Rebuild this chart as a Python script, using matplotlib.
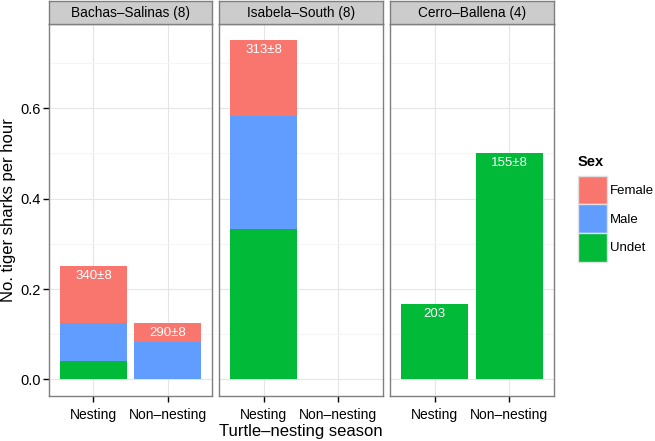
import matplotlib
matplotlib.use("Agg")
import matplotlib.pyplot as plt
from matplotlib.patches import Patch

plt.rcParams['font.family'] = ['Liberation Sans', 'DejaVu Sans']

sites = ['Bachas\u2013Salinas (8)', 'Isabela\u2013South (8)', 'Cerro\u2013Ballena (4)']
seasons = ['Nesting', 'Non\u2013nesting']
colors = {'Female': '#F8766D', 'Male': '#619CFF', 'Undet': '#00BA38'}

# rates per site, per season (Nesting, Non-nesting)
undet = [[0.0417, 0.0], [0.3333, 0.0], [0.1667, 0.5]]
male = [[0.0833, 0.0833], [0.25, 0.0], [0.0, 0.0]]
female = [[0.125, 0.0417], [0.1667, 0.0], [0.0, 0.0]]
bar_labels = [['340\u00b18', '290\u00b18'], ['313\u00b18', ''], ['203', '155\u00b18']]

W, H = 655, 441
fig = plt.figure(figsize=(W / 100, H / 100), dpi=100)

panel_x = [(49, 212), (219, 383), (390, 554)]
strip_top, strip_bot, panel_bot = 1, 24, 396

ymin, ymax = -0.0365, 0.786

for i, (x0, x1) in enumerate(panel_x):
    ax = fig.add_axes([x0 / W, 1 - panel_bot / H, (x1 - x0) / W, (panel_bot - strip_bot) / H])
    ax.set_facecolor('white')
    ax.set_ylim(ymin, ymax)
    ax.set_xlim(0.4, 2.6)
    ax.set_yticks([0.0, 0.2, 0.4, 0.6])
    ax.set_yticks([0.1, 0.3, 0.5, 0.7], minor=True)
    ax.set_xticks([1, 2])
    ax.set_xticklabels(seasons)
    ax.grid(True, which='major', color='#E5E5E5', linewidth=0.8)
    ax.grid(True, which='minor', axis='y', color='#F5F5F5', linewidth=0.8)
    ax.set_axisbelow(True)
    for s in ax.spines.values():
        s.set_color('#7F7F7F')
        s.set_linewidth(1.0)
    ax.tick_params(axis='x', which='major', length=4, width=1, color='black',
                   labelsize=10, labelcolor='black', pad=5)
    ax.tick_params(axis='y', which='major', length=4, width=1, color='black',
                   labelsize=10.5, labelcolor='black', pad=2)
    ax.tick_params(axis='y', which='minor', length=0)
    if i == 0:
        ax.set_yticklabels(['0.0', '0.2', '0.4', '0.6'])
        ax.set_ylabel('No. tiger sharks per hour', fontsize=12, labelpad=3)
    else:
        ax.tick_params(axis='y', which='major', length=0, labelleft=False)
    if i == 1:
        ax.set_xlabel('Turtle\u2013nesting season', fontsize=12, labelpad=1)

    for j in range(2):
        bottom = 0.0
        for name, vals in (('Undet', undet), ('Male', male), ('Female', female)):
            v = vals[i][j]
            if v > 0:
                ax.bar(j + 1, v, width=0.9, bottom=bottom, color=colors[name], linewidth=0)
            bottom += v
        if bar_labels[i][j]:
            ax.text(j + 1, bottom - 0.008, bar_labels[i][j], ha='center', va='top',
                    color='white', fontsize=9.5)

    # strip
    sax = fig.add_axes([x0 / W, 1 - strip_bot / H, (x1 - x0) / W, (strip_bot - strip_top) / H])
    sax.set_facecolor('#CCCCCC')
    sax.set_xticks([])
    sax.set_yticks([])
    for s in sax.spines.values():
        s.set_color('#7F7F7F')
        s.set_linewidth(1.0)
    sax.text(0.5, 0.5, sites[i], ha='center', va='center', fontsize=9.8,
             transform=sax.transAxes)

# legend
handles = [Patch(facecolor=colors[n], edgecolor='#E0E0E0', label=n) for n in ['Female', 'Male', 'Undet']]
leg = fig.legend(handles=handles, title='Sex', loc='upper left',
                 bbox_to_anchor=(574 / W, 1 - 151 / H), frameon=False,
                 fontsize=9.5, handlelength=2.2, handleheight=2.95,
                 handletextpad=0.25, labelspacing=0.0, borderaxespad=0,
                 borderpad=0.3)
leg.get_title().set_fontweight('bold')
leg.get_title().set_fontsize(10.5)
leg._legend_box.align = 'left'
leg._legend_box.sep = 5

fig.savefig('out.png', dpi=100)
